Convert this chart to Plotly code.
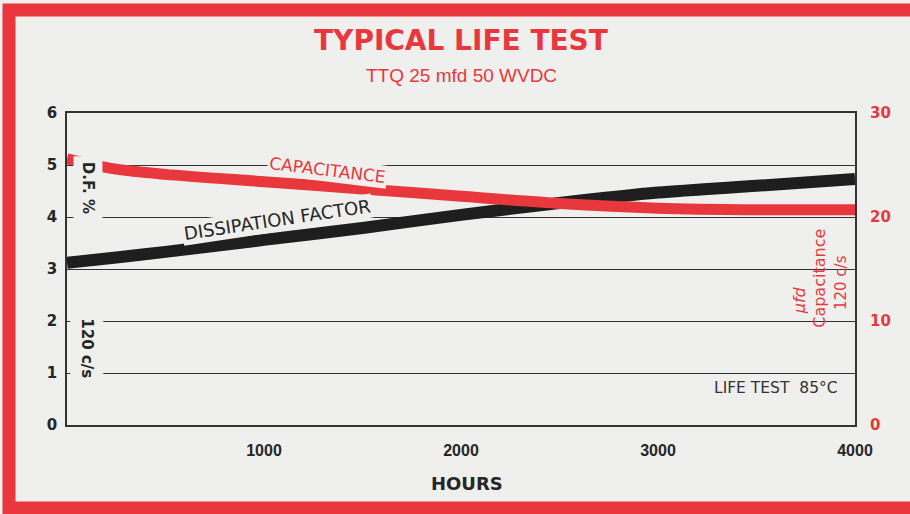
import plotly.graph_objects as go

# Life test of a TTQ 25 mfd 50 WVDC capacitor at 85°C
hours = [0, 250, 500, 1000, 1500, 2000, 2500, 3000, 3500, 4000]
dissipation_factor = [3.12, 3.22, 3.33, 3.56, 3.79, 4.04, 4.27, 4.47, 4.60, 4.73]   # D.F. %
capacitance = [25.6, 24.6, 24.1, 23.4, 22.7, 22.0, 21.3, 20.85, 20.7, 20.7]         # mfd

left_ticks = [0, 1, 2, 3, 4, 5, 6]
right_ticks = [0, 10, 20, 30]
hour_ticks = [1000, 2000, 3000, 4000]

RED = "#e8383d"
INK = "#262626"
PAPER = "#efefed"

fig = go.Figure()

fig.add_trace(go.Scatter(
    x=hours, y=capacitance, yaxis="y2", mode="lines",
    line=dict(color=RED, width=11, shape="spline", smoothing=0.8),
    hoverinfo="skip", showlegend=False,
))
fig.add_trace(go.Scatter(
    x=hours, y=dissipation_factor, yaxis="y", mode="lines",
    line=dict(color="#1e1e1e", width=12, shape="spline", smoothing=0.8),
    hoverinfo="skip", showlegend=False,
))

tick_font = dict(family="Liberation Sans Narrow, Liberation Sans, Arial", size=16, color=INK, weight="bold")

fig.update_layout(
    width=910, height=514,
    margin=dict(l=67, r=55, t=113, b=89),
    paper_bgcolor=PAPER, plot_bgcolor=PAPER,
    xaxis=dict(
        range=[0, 4000], tickvals=hour_ticks, ticktext=[str(v) for v in hour_ticks],
        showgrid=False, zeroline=False, showline=True, mirror=True,
        linecolor="#333", linewidth=1.5, ticks="", ticklabelstandoff=10,
        tickfont=tick_font,
    ),
    yaxis=dict(
        range=[0, 6], tickvals=left_ticks, showgrid=True, gridcolor="#333", gridwidth=1.2,
        zeroline=False, showline=True, mirror=True, linecolor="#333", linewidth=1.5,
        ticks="inside", ticklen=6, tickcolor="#333", ticklabelstandoff=5,
        tickfont=dict(family="DejaVu Sans, Liberation Sans", size=15, color=INK, weight="bold"),
    ),
    yaxis2=dict(
        range=[0, 30], tickvals=right_ticks, overlaying="y", side="right",
        showgrid=False, zeroline=False, showline=False, ticks="",
        ticklabelstandoff=14,
        tickfont=dict(family="DejaVu Sans, Liberation Sans", size=15, color=RED, weight="bold"),
    ),
)

# red frame around the sheet
fig.add_shape(type="rect", xref="paper", yref="paper",
              x0=-0.0736, x1=1.2, y0=-0.266, y1=1.330,
              line=dict(color=RED, width=13), fillcolor="rgba(0,0,0,0)", layer="above")

def note(text, x, y, **kw):
    kw.setdefault("yanchor", "middle")
    fig.add_annotation(text=text, x=x, y=y, showarrow=False, **kw)

# headings
note("TYPICAL LIFE TEST", 0.5, 1.232, xref="paper", yref="paper",
     font=dict(family="DejaVu Sans", size=28, color=RED, weight="bold"))
note("TTQ 25 mfd 50 WVDC", 0.5, 1.12, xref="paper", yref="paper",
     font=dict(family="Liberation Sans Narrow, Liberation Sans", size=19, color=RED))
note("HOURS", 0.508, -0.186, xref="paper", yref="paper",
     font=dict(family="DejaVu Sans", size=18, color=INK, weight="bold"))

# curve labels
note("CAPACITANCE", 1320, 4.90, xref="x", yref="y", textangle=7,
     font=dict(family="DejaVu Sans", size=17, color=RED), bgcolor=PAPER, borderpad=1)
note("DISSIPATION FACTOR", 1071, 3.95, xref="x", yref="y", textangle=-8.5,
     font=dict(family="DejaVu Sans", size=18, color=INK), bgcolor=PAPER, borderpad=1)

# left axis title
note("D.F. %", 107, 4.56, xref="x", yref="y", textangle=90,
     font=dict(family="DejaVu Sans", size=15, color=INK, weight="bold"), bgcolor=PAPER, borderpad=5)
note("120 c/s", 100, 1.48, xref="x", yref="y", textangle=90,
     font=dict(family="DejaVu Sans", size=15, color=INK, weight="bold"), bgcolor=PAPER, borderpad=7)

# right axis title
note("<i>μfd</i>", 3716, 2.40, xref="x", yref="y", textangle=-90,
     font=dict(family="DejaVu Sans", size=16, color=RED))
note("Capacitance", 3822, 2.83, xref="x", yref="y", textangle=-90,
     font=dict(family="DejaVu Sans", size=16, color=RED))
note("120 c/s", 3929, 2.73, xref="x", yref="y", textangle=-90,
     font=dict(family="DejaVu Sans", size=15, color=RED))

note("LIFE TEST  85°C", 3924, 0.71, xref="x", yref="y", xanchor="right",
     font=dict(family="DejaVu Sans", size=15.5, color="#333"))

fig.write_html("out.html")
